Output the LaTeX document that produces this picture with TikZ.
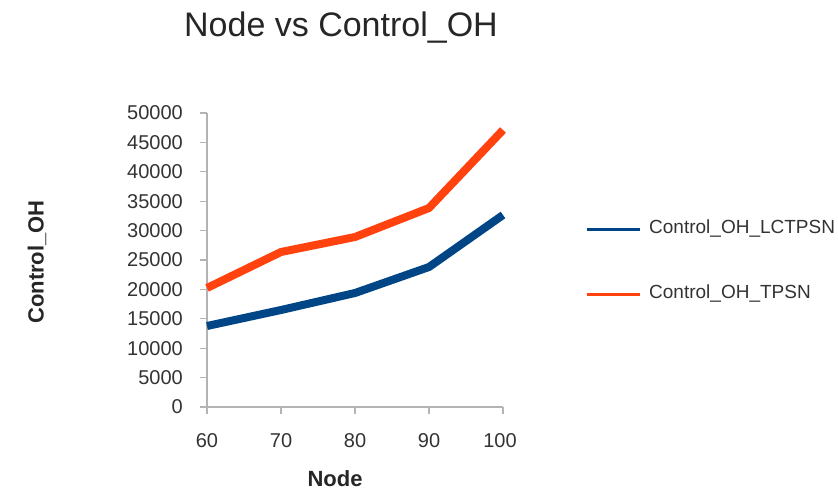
\documentclass[tikz,border=0pt]{standalone}
\usepackage{fontspec}
\setmainfont{Liberation Sans}
\definecolor{seriesblue}{HTML}{004586}
\definecolor{seriesorange}{HTML}{FF420E}
\definecolor{axisgray}{HTML}{B3B3B3}
\tikzset{
  ticklabel/.style={font=\fontsize{20}{23}\selectfont,text=black!80,inner sep=0pt},
  axistitle/.style={font=\fontsize{22}{26}\selectfont\bfseries,text=black!85,inner sep=0pt},
  series/.style={line width=8pt,line join=round}
}
\begin{document}
\begin{tikzpicture}[x=1pt,y=-1pt]
\useasboundingbox (0,0) rectangle (838,495);

\node[text=black!85] (title) at (341,28) {\fontsize{34}{38}\selectfont Node vs Control\_OH};

% axes
\draw[axisgray,line width=1.2pt] (207,113) -- (207,407) -- (503,407);
\draw[axisgray,line width=1.2pt] (200,113) -- (207,113);
\draw[axisgray,line width=1.2pt] (200,142.4) -- (207,142.4);
\draw[axisgray,line width=1.2pt] (200,171.8) -- (207,171.8);
\draw[axisgray,line width=1.2pt] (200,201.2) -- (207,201.2);
\draw[axisgray,line width=1.2pt] (200,230.6) -- (207,230.6);
\draw[axisgray,line width=1.2pt] (200,260) -- (207,260);
\draw[axisgray,line width=1.2pt] (200,289.4) -- (207,289.4);
\draw[axisgray,line width=1.2pt] (200,318.8) -- (207,318.8);
\draw[axisgray,line width=1.2pt] (200,348.2) -- (207,348.2);
\draw[axisgray,line width=1.2pt] (200,377.6) -- (207,377.6);
\draw[axisgray,line width=1.2pt] (200,407) -- (207,407);
\draw[axisgray,line width=1.2pt] (207,407) -- (207,414);
\draw[axisgray,line width=1.2pt] (281,407) -- (281,414);
\draw[axisgray,line width=1.2pt] (355,407) -- (355,414);
\draw[axisgray,line width=1.2pt] (429,407) -- (429,414);
\draw[axisgray,line width=1.2pt] (503,407) -- (503,414);

\node[ticklabel,anchor=east] (y50) at (183,113) {50000};
\node[ticklabel,anchor=east] (y45) at (183,142.4) {45000};
\node[ticklabel,anchor=east] (y40) at (183,171.8) {40000};
\node[ticklabel,anchor=east] (y35) at (183,201.2) {35000};
\node[ticklabel,anchor=east] (y30) at (183,230.6) {30000};
\node[ticklabel,anchor=east] (y25) at (183,260) {25000};
\node[ticklabel,anchor=east] (y20) at (183,289.4) {20000};
\node[ticklabel,anchor=east] (y15) at (183,318.8) {15000};
\node[ticklabel,anchor=east] (y10) at (183,348.2) {10000};
\node[ticklabel,anchor=east] (y5) at (183,377.6) {5000};
\node[ticklabel,anchor=east] (y0) at (183,407) {0};

\node[ticklabel] (x60) at (207,441) {60};
\node[ticklabel] (x70) at (281,441) {70};
\node[ticklabel] (x80) at (355,441) {80};
\node[ticklabel] (x90) at (429,441) {90};
\node[ticklabel] (x100) at (500,441) {100};

\node[axistitle] (xtitle) at (335,479) {Node};
\node[axistitle,rotate=90] (ytitle) at (37,262) {Control\_OH};

% data
\draw[series,seriesblue] plot coordinates {(207,326) (281,310) (355,293) (429,267) (503,215)};
\draw[series,seriesorange] plot coordinates {(207,288) (281,252) (355,237) (429,208) (503,130)};

% legend
\draw[seriesblue,line width=3pt] (587,229) -- (640,229);
\node[ticklabel,anchor=west,font=\fontsize{19}{22}\selectfont] (legblue) at (649,229) {Control\_OH\_LCTPSN};
\draw[seriesorange,line width=3pt] (587,294) -- (640,294);
\node[ticklabel,anchor=west,font=\fontsize{19}{22}\selectfont] (legorange) at (649,294) {Control\_OH\_TPSN};
\end{tikzpicture}
\end{document}
